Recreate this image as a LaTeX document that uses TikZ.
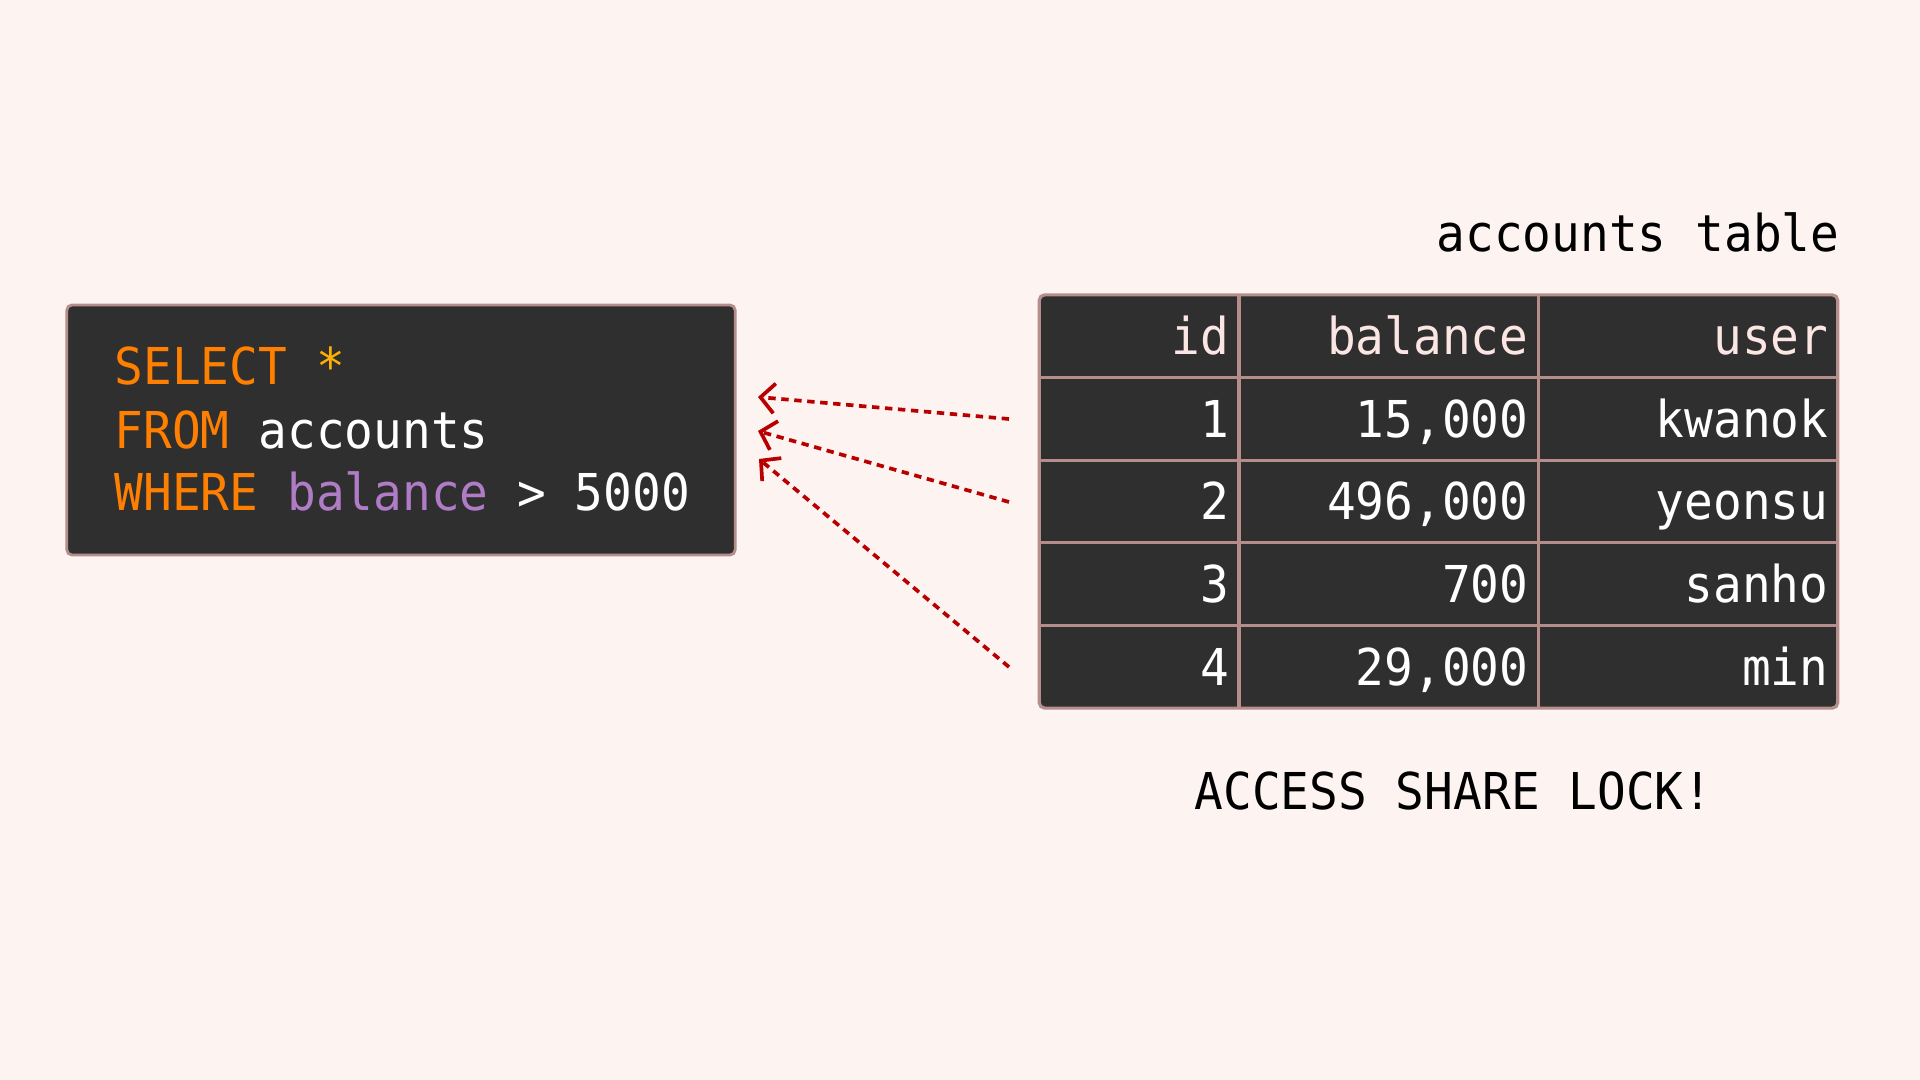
\documentclass[tikz,border=0pt]{standalone}
\usepackage{fontspec}
\usetikzlibrary{arrows.meta}
\newfontfamily\monof[FakeStretch=0.94]{DejaVu Sans Mono}
\definecolor{bgc}{HTML}{FDF3F1}
\definecolor{boxc}{HTML}{2F2F2F}
\definecolor{edgec}{HTML}{B58E8C}
\definecolor{kwc}{HTML}{FF7F00}
\definecolor{starc}{HTML}{FFB000}
\definecolor{colc}{HTML}{B07CC6}
\definecolor{headc}{HTML}{FBE6E3}
\definecolor{arrc}{HTML}{B80000}
\tikzset{
  txt/.style={inner sep=0pt, font=\monof\fontsize{14.45}{17.9}\selectfont},
  cell/.style={txt, anchor=base east, text=white},
  headcell/.style={cell, text=headc},
  gridline/.style={draw=edgec, line width=0.9pt},
  lockarrow/.style={draw=arrc, line width=1.05pt, dash pattern=on 2.1pt off 1.6pt,
    -{Straight Barb[length=4pt, width=8.5pt, line width=1.05pt]}}
}
\begin{document}
\begin{tikzpicture}[x=0.01cm, y=-0.01cm]
\useasboundingbox[fill=bgc] (0,0) rectangle (1920,1080);
% code box
\node[draw=edgec, line width=0.8pt, fill=boxc, rounded corners=1.5pt,
  minimum width=668*0.2845pt, minimum height=250*0.2845pt, inner sep=0pt]
  (code) at (401,430) {};
\node[txt, anchor=base west, text=kwc] (l1) at (114,385) {SELECT \textcolor{starc}{*}};
\node[txt, anchor=base west, text=kwc] (l2) at (114,448.5) {FROM \textcolor{white}{accounts}};
\node[txt, anchor=base west, text=kwc] (l3) at (114,511) {WHERE \textcolor{colc}{balance} \textcolor{white}{> 5000}};
% table
\node[draw=edgec, line width=0.9pt, fill=boxc, rounded corners=1.5pt,
  minimum width=798*0.2845pt, minimum height=413*0.2845pt, inner sep=0pt]
  (tbl) at (1438.5,501.5) {};
\foreach \y in {377.6,460.2,542.8,625.4} \draw[gridline] (1039.5,\y) -- (1837.5,\y);
\foreach \x in {1239,1538.5} \draw[gridline] (\x,295) -- (\x,708);
% header
\node[headcell] (hid) at (1230,355) {id};
\node[headcell] (hbal) at (1529,355) {balance};
\node[headcell] (huser) at (1829,355) {user};
% rows
\node[cell] (r1a) at (1230,437.4) {1};
\node[cell] (r1b) at (1529,437.4) {15,000};
\node[cell] (r1c) at (1829,437.4) {kwanok};
\node[cell] (r2a) at (1230,520) {2};
\node[cell] (r2b) at (1529,520) {496,000};
\node[cell] (r2c) at (1829,520) {yeonsu};
\node[cell] (r3a) at (1230,602.6) {3};
\node[cell] (r3b) at (1529,602.6) {700};
\node[cell] (r3c) at (1829,602.6) {sanho};
\node[cell] (r4a) at (1230,685.2) {4};
\node[cell] (r4b) at (1529,685.2) {29,000};
\node[cell] (r4c) at (1829,685.2) {min};
% labels
\node[txt, anchor=base east] (ttl) at (1840,252) {accounts table};
\node[txt, anchor=base west] (lock) at (1194,810) {ACCESS SHARE LOCK!};
% arrows
\coordinate (s1) at (1009,419);
\coordinate (s2) at (1009,502);
\coordinate (s3) at (1009,667);
\coordinate (t1) at (758,397);
\coordinate (t2) at (758,431);
\coordinate (t3) at (759,459);
\draw[lockarrow] (s1) -- (t1);
\draw[lockarrow] (s2) -- (t2);
\draw[lockarrow] (s3) -- (t3);
\end{tikzpicture}
\end{document}
